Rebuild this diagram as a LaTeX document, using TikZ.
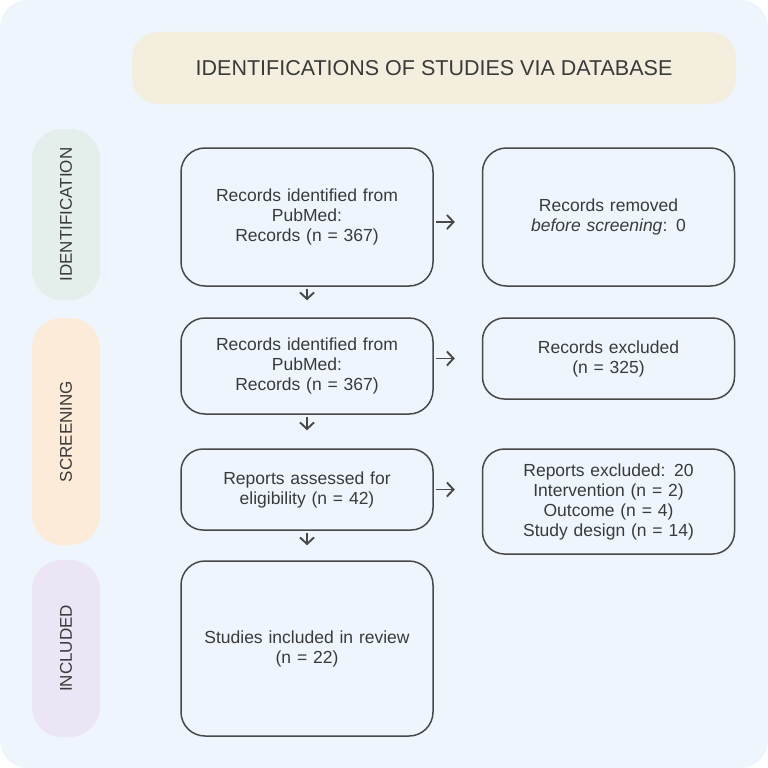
\documentclass[tikz,border=0pt]{standalone}
\usepackage{fontspec}
\setmainfont{Liberation Sans}
\usetikzlibrary{arrows.meta}

\definecolor{pagebg}{RGB}{238,245,253}
\definecolor{titlebg}{RGB}{243,238,221}
\definecolor{identbg}{RGB}{228,238,234}
\definecolor{screenbg}{RGB}{253,235,217}
\definecolor{inclbg}{RGB}{235,229,245}
\definecolor{boxline}{RGB}{72,72,72}
\definecolor{ink}{RGB}{58,58,58}

\begin{document}
\begin{tikzpicture}[x=1pt,y=-1pt,
  box/.style={draw=boxline, line width=1.5pt, rounded corners=24pt,
    align=center, text width=240pt, minimum width=252pt, inner sep=0pt,
    text=ink, font=\fontsize{17.5}{20}\selectfont},
  stage/.style={rotate=90, rounded corners=30pt, minimum height=68pt,
    inner sep=0pt, text=ink, font=\fontsize{17}{20}\selectfont},
  flow/.style={draw=boxline, line width=1.9pt,
    -{Straight Barb[length=6.5pt,width=14pt]}}]
  \useasboundingbox (0,0) rectangle (768,768);
  \fill[white] (0,0) rectangle (768,768);
  \fill[pagebg, rounded corners=28pt] (0,0) rectangle (768,768);

  % Heading across the top.
  \node[fill=titlebg, rounded corners=26pt, minimum width=604pt,
    minimum height=72pt, text=ink, font=\fontsize{21.5}{24}\selectfont]
    (title) at (434,68) {IDENTIFICATIONS OF STUDIES VIA DATABASE};

  % Stage labels on the left.
  \node[stage, fill=identbg, minimum width=171pt] (ident) at (66,214.5)
    {IDENTIFICATION};
  \node[stage, fill=screenbg, minimum width=227pt] (screen) at (66,431.5)
    {SCREENING};
  \node[stage, fill=inclbg, minimum width=177pt] (incl) at (66,648.5)
    {INCLUDED};

  % Main column.
  \node[box, minimum height=138pt] (found) at (307,217)
    {Records identified from\\PubMed:\\Records (n = 367)};
  \node[box, minimum height=96pt] (screened) at (307,366)
    {Records identified from\\PubMed:\\Records (n = 367)};
  \node[box, minimum height=81pt, rounded corners=22pt] (assessed)
    at (307,489.5) {Reports assessed for\\eligibility (n = 42)};
  \node[box, minimum height=175pt] (review) at (307,648.5)
    {Studies included in review\\(n = 22)};

  % Exclusions on the right.
  \node[box, minimum height=138pt] (removed) at (608.5,217)
    {Records removed\\\emph{before screening}: 0};
  \node[box, minimum height=81pt, rounded corners=22pt] (excluded)
    at (608.5,358.5) {Records excluded\\(n = 325)};
  \node[box, minimum height=105pt, rounded corners=22pt] (reports)
    at (608.5,501.5)
    {Reports excluded: 20\\Intervention (n = 2)\\Outcome (n = 4)\\Study design (n = 14)};

  % Arrows down the column.
  \draw[flow, shorten <=2pt, shorten >=17pt] (found) -- (screened);
  \draw[flow, shorten <=2pt, shorten >=18pt] (screened) -- (assessed);
  \draw[flow, shorten <=2pt, shorten >=15pt] (assessed) -- (review);

  % Arrows to the right.
  \draw[flow, shorten <=2pt, shorten >=27pt]
    ([yshift=-5pt]found.east) -- ([yshift=-5pt]removed.west);
  \draw[flow, shorten <=2pt, shorten >=27pt]
    (screened.east |- excluded.west) -- (excluded.west);
  \draw[flow, shorten <=2pt, shorten >=27pt]
    (assessed.east) -- (reports.west |- assessed.east);
\end{tikzpicture}
\end{document}
